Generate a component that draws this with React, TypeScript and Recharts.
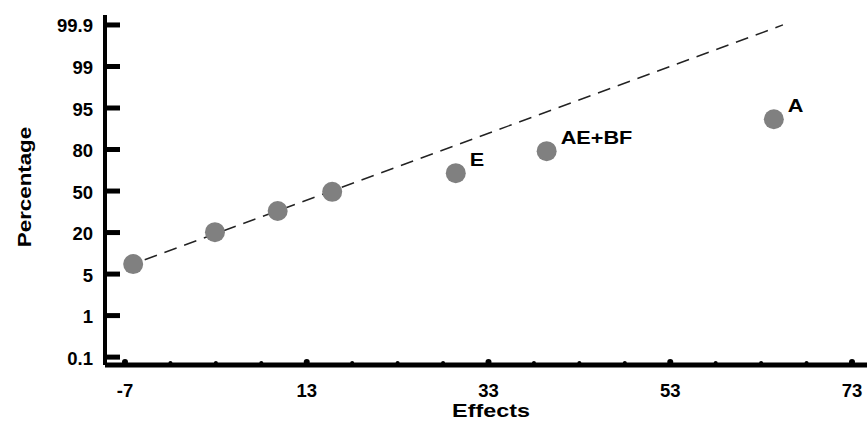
import React from "react";
import {
  ScatterChart,
  Scatter,
  XAxis,
  YAxis,
  ReferenceLine,
} from "recharts";

// effect estimates (x) and their normal-probability rank (y, as tick index)
const effects = [-6.1, 2.9, 9.8, 15.8, 29.4, 39.4, 64.4];
const rankIndex = [2.24, 3.01, 3.52, 3.98, 4.43, 4.96, 5.73];
const pointNames = ["", "", "", "", "E", "AE+BF", "A"];

// percentage tick labels, evenly spaced on the probability scale
const percentLabels = ["0.1", "1", "5", "20", "50", "80", "95", "99", "99.9"];
const percentTicks = [0, 1, 2, 3, 4, 5, 6, 7, 8];

const majorXTicks = [-7, 13, 33, 53, 73];
const minorXTicks = [-7, -2, 3, 8, 13, 18, 23, 28, 33, 38, 43, 48, 53, 58, 63, 68, 73];

// fitted normal line endpoints
const fitX = [-7, 65.4];
const fitY = [2.17, 8.0];

const FONT = "'Liberation Sans', Arial, sans-serif";

const data = effects.map((x, i) => ({ x, y: rankIndex[i], name: pointNames[i] }));

// bold text, optionally widened (the source image is stretched)
const BoldText = ({ x, y, size, anchor = "start", rotate = 0, sx = 1, children }: any) => (
  <text
    transform={`translate(${x} ${y}) rotate(${rotate}) scale(${sx} 1)`}
    textAnchor={anchor}
    fontFamily={FONT}
    fontWeight="bold"
    fontSize={size}
    fill="#000"
  >
    {children}
  </text>
);

const XTick = (props: any) => {
  const { x, y, payload } = props;
  const major = majorXTicks.includes(payload.value);
  return (
    <g>
      <circle cx={x} cy={y - (major ? 3 : 2)} r={major ? 3 : 2} fill="#000" />
      {major && (
        <BoldText x={x} y={y + 32} size={18.5} anchor="middle">
          {payload.value}
        </BoldText>
      )}
    </g>
  );
};

const YTick = (props: any) => {
  const { x, y, payload } = props;
  return (
    <g>
      <line x1={x} x2={x + 15} y1={y} y2={y} stroke="#000" strokeWidth={5} />
      <BoldText x={x - 12} y={y + 7.5} size={18.5} anchor="end">
        {percentLabels[payload.value]}
      </BoldText>
    </g>
  );
};

const Dot = (props: any) => {
  const { cx, cy, payload } = props;
  return (
    <g>
      <circle cx={cx} cy={cy} r={10} fill="#808080" />
      {payload.name && (
        <BoldText x={cx + 14} y={cy - 7} size={17.5} sx={1.24}>
          {payload.name}
        </BoldText>
      )}
    </g>
  );
};

const YLabel = (props: any) => {
  const vb = props.viewBox;
  return (
    <BoldText
      x={vb.x + 31}
      y={vb.y + vb.height / 2 - 3}
      size={18.6}
      anchor="middle"
      rotate={-90}
      sx={1.2}
    >
      Percentage
    </BoldText>
  );
};

const XLabel = (props: any) => {
  const vb = props.viewBox;
  return (
    <BoldText x={vb.x + vb.width / 2 + 5} y={vb.y + 52} size={18.4} anchor="middle" sx={1.27}>
      Effects
    </BoldText>
  );
};

export default function App() {
  return (
    <div style={{ position: "absolute", top: 0, left: 0, background: "#fff" }}>
      <ScatterChart
        width={867}
        height={421}
        margin={{ top: 15, right: 0, bottom: 0, left: 0 }}
      >
        <XAxis
          type="number"
          dataKey="x"
          domain={[-9.2, 74.65]}
          ticks={minorXTicks}
          interval={0}
          allowDataOverflow
          height={56}
          tickSize={0}
          tickMargin={0}
          tickLine={false}
          tick={<XTick />}
          axisLine={{ stroke: "#000", strokeWidth: 5 }}
          label={<XLabel />}
        />
        <YAxis
          type="number"
          dataKey="y"
          domain={[-0.19, 8.24]}
          ticks={percentTicks}
          interval={0}
          allowDataOverflow
          width={105}
          tickSize={0}
          tickMargin={0}
          tickLine={false}
          tick={<YTick />}
          axisLine={{ stroke: "#000", strokeWidth: 4 }}
          label={<YLabel />}
        />
        <ReferenceLine
          segment={[
            { x: fitX[0], y: fitY[0] },
            { x: fitX[1], y: fitY[1] },
          ]}
          stroke="#222"
          strokeWidth={1.4}
          strokeDasharray="13 8"
        />
        <Scatter data={data} shape={<Dot />} isAnimationActive={false} />
      </ScatterChart>
    </div>
  );
}
